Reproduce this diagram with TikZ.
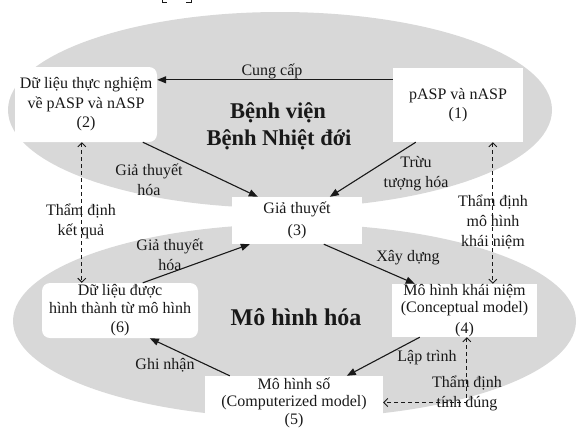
\documentclass[tikz,border=0pt]{standalone}
\usepackage{fontspec}
\setmainfont{Liberation Serif}
\usetikzlibrary{arrows.meta,calc}
\definecolor{ellgray}{RGB}{216,216,216}
\definecolor{ink}{RGB}{25,25,25}
\begin{document}
\begin{tikzpicture}[x=1pt,y=-1pt,
  box/.style={fill=white, draw=none, align=center, inner sep=0pt, text=ink, font=\fontsize{16}{17.5}\selectfont},
  rbox/.style={box, rounded corners=8pt},
  lbl/.style={align=center, inner sep=0pt, text=ink, font=\fontsize{16}{20}\selectfont},
  ttl/.style={inner sep=0pt, text=ink, font=\bfseries\fontsize{22.5}{27}\selectfont},
  solidarrow/.style={draw=ink, line width=1.1pt, -{Triangle[length=9pt,width=7pt]}},
  dasharrow/.style={draw=ink, line width=0.9pt, dash pattern=on 4pt off 3pt, {Straight Barb[length=4pt,width=8pt]}-{Straight Barb[length=4pt,width=8pt]}},
]
\useasboundingbox (0,0) rectangle (577,429);
% background ellipses
\fill[ellgray] (280,110) ellipse [x radius=272pt, y radius=98pt];
\fill[ellgray] (294.5,321) ellipse [x radius=281.5pt, y radius=97pt];
% cut-off brackets at the top
\draw[ink, line width=1pt] (162,0) -- (162,2) -- (167,2);
\draw[ink, line width=1pt] (191,0) -- (191,2) -- (186,2);
% titles
\node[ttl] (t1) at (278,113) {Bệnh viện};
\node[ttl] (t2) at (279,140) {Bệnh Nhiệt đới};
\node[ttl, font=\bfseries\fontsize{24}{28}\selectfont] (t3) at (296,317) {Mô hình hóa};
% boxes
\node[box, minimum width=130pt, minimum height=74pt] (b1) at (458,105) {pASP và nASP\\[1pt](1)};
\node[rbox, minimum width=142pt, minimum height=75pt] (b2) at (86,104.5) {Dữ liệu thực nghiệm\\[2pt]về pASP và nASP\\[2pt](2)};
\node[box, minimum width=130pt, minimum height=47pt] (b3) at (297,220.5) {Giả thuyết\\[5pt](3)};
\node[box, minimum width=145pt, minimum height=53pt] (b4) at (464.5,310.5) {Mô hình khái niệm\\(Conceptual model)\\[3pt](4)};
\node[box, minimum width=178pt, minimum height=53pt] (b5) at (294,402.5) {Mô hình số\\(Computerized model)\\(5)};
\node[rbox, minimum width=156pt, minimum height=55pt] (b6) at (120,310.5) {Dữ liệu được\\hình thành từ mô hình\\[2pt](6)};
% solid connectors
\draw[solidarrow] ($(b1.north west)+(0,12)$) -- ($(b2.north east)+(0,13)$);
\draw[solidarrow] ($(b2.south west)+(128,0)$) -- ($(b3.north west)+(26,0)$);
\draw[solidarrow] ($(b1.south west)+(23,0)$) -- ($(b3.north west)+(98,0)$);
\draw[solidarrow] ($(b6.north west)+(101,0)$) -- ($(b3.south west)+(18,0)$);
\draw[solidarrow] ($(b3.south west)+(92,0)$) -- ($(b4.north west)+(23,0)$);
\draw[solidarrow] ($(b4.south west)+(28,0)$) -- ($(b5.north west)+(142,0)$);
\draw[solidarrow] ($(b5.north west)+(25,0)$) -- ($(b6.south west)+(108,0)$);
% dashed connectors
\draw[dasharrow] ($(b1.south west)+(100,0)$) -- ($(b4.north west)+(101,0)$);
\draw[dasharrow] ($(b2.south west)+(67,0)$) -- ($(b6.north west)+(40,0)$);
\draw[dasharrow] ($(b4.south west)+(75,0)$) |- (b5.east);
% labels
\node[lbl] (l1) at (272,71) {Cung cấp};
\node[lbl] (l2) at (149,180) {Giả thuyết\\hóa};
\node[lbl] (l3) at (416,174) {Trừu\\tượng hóa};
\node[lbl] (l4) at (81,221) {Thẩm định\\kết quả};
\node[lbl] (l5) at (493,222) {Thẩm định\\mô hình\\khái niệm};
\node[lbl] (l6) at (170,255) {Giả thuyết\\hóa};
\node[lbl] (l7) at (408,258) {Xây dựng};
\node[lbl] (l8) at (427,358) {Lập trình};
\node[lbl] (l9) at (165,365) {Ghi nhận};
\node[lbl] (l10) at (467,393) {Thẩm định\\tính đúng};
\end{tikzpicture}
\end{document}
